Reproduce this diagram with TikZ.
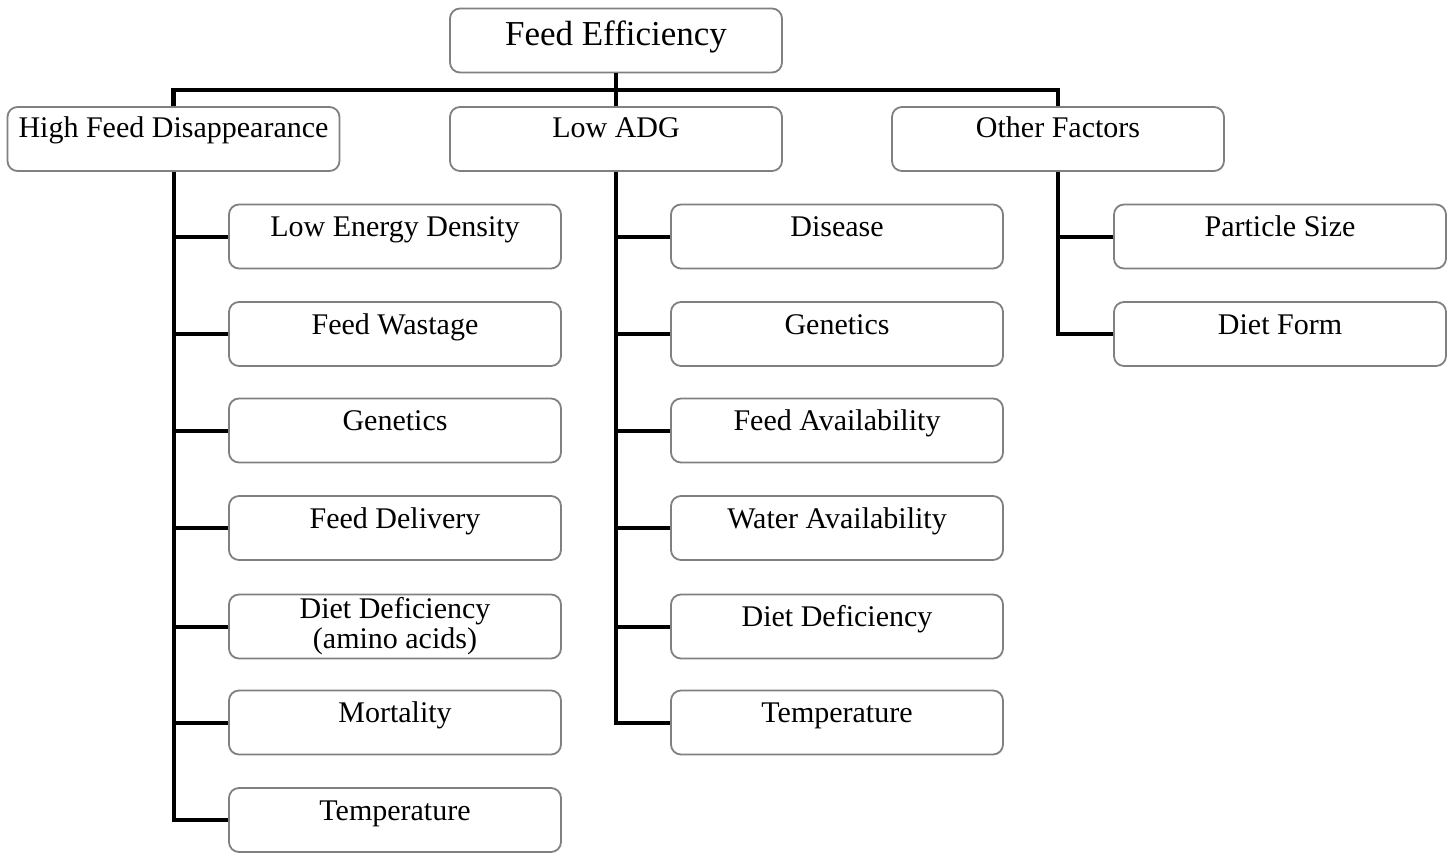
\documentclass[tikz,border=0pt]{standalone}
\usepackage{fontspec}
\setmainfont{Liberation Serif}
\usetikzlibrary{positioning}
\tikzstyle{Line} = [
%plain black connector:
line width=4pt, black
]

\begin{document}
\begin{tikzpicture}[x=1pt, y=-1pt,
			leafbox/.style = {rectangle, rounded corners=10pt, draw=gray, line width=1.8pt, minimum width=332pt, minimum height=64pt, inner sep=0pt, text centered, font=\fontsize{30}{36}\selectfont, text height=12pt, text depth=12pt},
			rootbox/.style = {leafbox, font=\fontsize{35}{42}\selectfont, text height=20pt, text depth=11pt},
			groupbox/.style = {leafbox, text height=10pt, text depth=14pt},
		]
		\useasboundingbox (0,0) rectangle (1450,854);

		\node[rootbox](FE) at (616,40.5){Feed Efficiency};
		\node[groupbox](HFD) at (173.5,139){High Feed Disappearance};
		\node[groupbox](LADG) at (616,139){Low ADG};
		\node[groupbox](OF) at (1058,139){Other Factors};

		% causes of high feed disappearance
		\node[leafbox](H1) at (395,236.5){Low Energy Density};
		\node[leafbox](H2) at (395,334){Feed Wastage};
		\node[leafbox](H3) at (395,430.5){Genetics};
		\node[leafbox](H4) at (395,528){Feed Delivery};
		\node[leafbox, align=center, text height=, text depth=](H5) at (395,626.5){Diet Deficiency\\[-6pt](amino acids)};
		\node[leafbox](H6) at (395,722.5){Mortality};
		\node[leafbox](H7) at (395,820){Temperature};

		% causes of low ADG
		\node[leafbox](L1) at (837,236.5){Disease};
		\node[leafbox](L2) at (837,334){Genetics};
		\node[leafbox](L3) at (837,430.5){Feed Availability};
		\node[leafbox](L4) at (837,528){Water Availability};
		\node[leafbox](L5) at (837,626.5){Diet Deficiency};
		\node[leafbox](L6) at (837,722.5){Temperature};

		% other factors
		\node[leafbox](O1) at (1280,236.5){Particle Size};
		\node[leafbox](O2) at (1280,334){Diet Form};

		\coordinate(bus) at (0,90);
		\draw[Line](FE.south)--(LADG.north);
		\draw[Line, line width=4.5pt](HFD.north)|-(bus -| OF.north)--(OF.north);

		\draw[Line](HFD.south)|-(H7.west);
		\foreach \n in {H1,H2,H3,H4,H5,H6}
			\draw[Line](\n.west)--(\n.west -| HFD.south);
		\draw[Line](LADG.south)|-(L6.west);
		\foreach \n in {L1,L2,L3,L4,L5}
			\draw[Line](\n.west)--(\n.west -| LADG.south);
		\draw[Line](OF.south)|-(O2.west);
		\draw[Line](O1.west)--(O1.west -| OF.south);

	\end{tikzpicture}
\end{document}
